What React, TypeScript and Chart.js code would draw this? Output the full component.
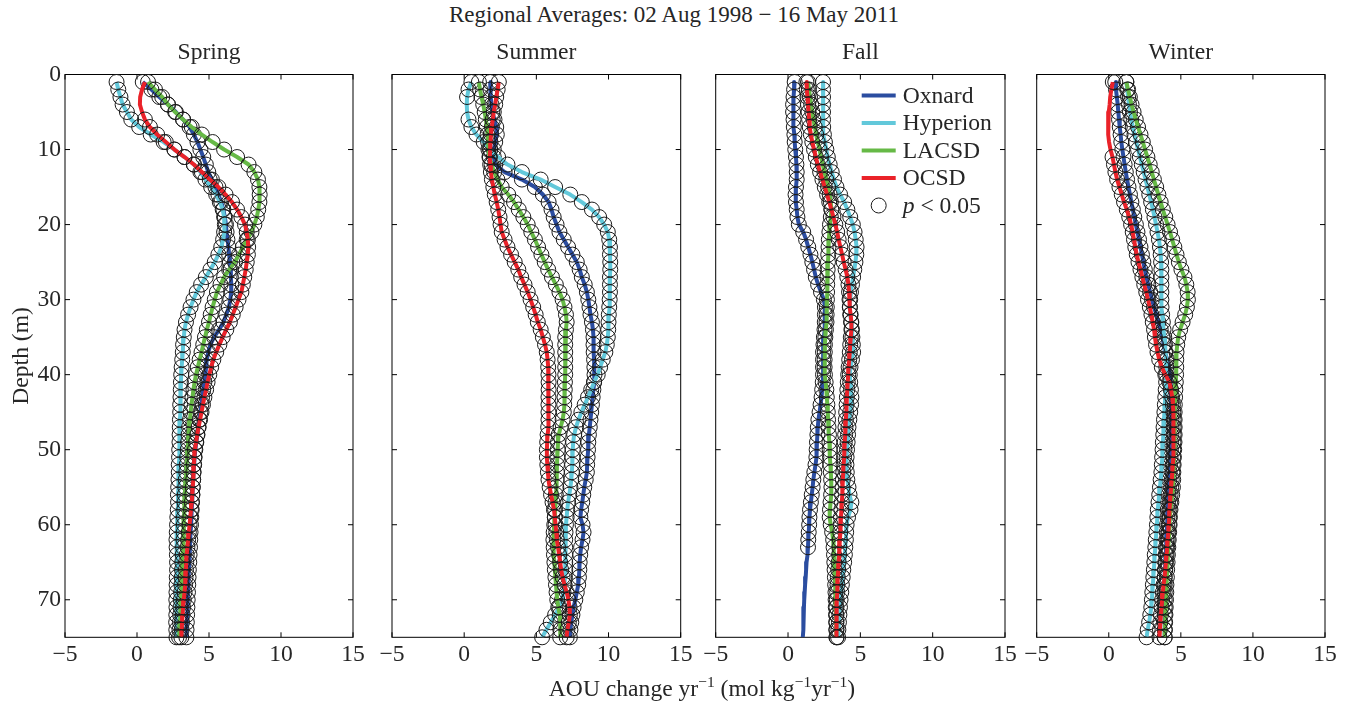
import React, { useEffect, useRef } from "react";
import { Chart, registerables } from "chart.js";
Chart.register(...registerables);

const FONT = '"Liberation Serif", "Times New Roman", serif';
const TEXT = "#262626";
const FS = 23.6;
const FS_SUP = 23;

const DEPTHS = [
  1, 2, 3, 4, 5, 6, 7, 8, 9, 10, 11, 12, 13, 14, 15, 16, 17, 18, 19, 20,
  21, 22, 23, 24, 25, 26, 27, 28, 29, 30, 31, 32, 33, 34, 35, 36, 37, 38, 39, 40,
  41, 42, 43, 44, 45, 46, 47, 48, 49, 50, 51, 52, 53, 54, 55, 56, 57, 58, 59, 60,
  61, 62, 63, 64, 65, 66, 67, 68, 69, 70, 71, 72, 73, 74, 75,
];
const X_TICKS = [-5, 0, 5, 10, 15];
const Y_TICKS = [0, 10, 20, 30, 40, 50, 60, 70];
const SITES = ["Oxnard", "Hyperion", "LACSD", "OCSD"];
const COLORS = ["#2B4DA0", "#62C8DA", "#66B946", "#EA2229"];
const PANEL_TITLES = ["Spring", "Summer", "Fall", "Winter"];

// ---- Spring ----
const SPRING_OXNARD = [
  0.4, 1.0, 1.55, 2.15, 2.7, 3.2, 3.65, 3.95, 4.2, 4.4,
  4.6, 4.78, 4.95, 5.2, 5.45, 5.65, 5.85, 6.0, 6.1, 6.18,
  6.22, 6.28, 6.35, 6.4, 6.45, 6.5, 6.52, 6.55, 6.54, 6.48,
  6.38, 6.2, 6.0, 5.7, 5.35, 5.1, 4.95, 4.85, 4.8, 4.75,
  4.68, 4.6, 4.52, 4.47, 4.4, 4.33, 4.26, 4.2, 4.12, 4.05,
  4.0, 3.97, 3.93, 3.9, 3.87, 3.85, 3.82, 3.8, 3.77, 3.75,
  3.72, 3.7, 3.68, 3.65, 3.63, 3.6, 3.58, 3.56, 3.54, 3.52,
  3.5, 3.48, 3.46, 3.44, 3.43,
];
const SPRING_HYPERION = [
  -1.42, -1.3, -1.15, -1.0, -0.7, -0.4, 0.15, 0.95, 1.85, 2.6,
  3.3, 3.95, 4.4, 4.75, 5.15, 5.5, 5.75, 5.95, 6.05, 6.1,
  6.05, 5.98, 5.85, 5.65, 5.4, 5.1, 4.78, 4.45, 4.15, 3.92,
  3.72, 3.55, 3.4, 3.3, 3.25, 3.2, 3.18, 3.14, 3.1, 3.07,
  3.05, 3.04, 3.02, 3.0, 3.0, 2.98, 2.97, 2.96, 2.95, 2.93,
  2.92, 2.9, 2.9, 2.88, 2.86, 2.84, 2.85, 2.83, 2.8, 2.78,
  2.76, 2.74, 2.75, 2.77, 2.78, 2.78, 2.76, 2.75, 2.74, 2.73,
  2.74, 2.73, 2.72, 2.73, 2.74,
];
const SPRING_LACSD = [
  0.77, 1.25, 1.75, 2.15, 2.65, 3.2, 3.8, 4.5, 5.25, 6.05,
  6.95, 7.75, 8.15, 8.4, 8.5, 8.52, 8.5, 8.42, 8.32, 8.15,
  7.95, 7.62, 7.35, 7.08, 6.8, 6.4, 6.05, 5.8, 5.55, 5.4,
  5.25, 5.12, 5.0, 4.85, 4.72, 4.6, 4.48, 4.35, 4.22, 4.1,
  4.0, 3.92, 3.85, 3.78, 3.72, 3.68, 3.62, 3.58, 3.55, 3.52,
  3.48, 3.45, 3.42, 3.38, 3.35, 3.32, 3.3, 3.28, 3.26, 3.25,
  3.24, 3.23, 3.2, 3.17, 3.14, 3.12, 3.1, 3.08, 3.06, 3.04,
  3.02, 3.0, 2.98, 2.95, 2.92,
];
const SPRING_OCSD = [
  0.55, 0.35, 0.22, 0.2, 0.35, 0.55, 0.9, 1.4, 2.0, 2.6,
  3.3, 3.95, 4.5, 5.05, 5.65, 6.15, 6.6, 6.95, 7.25, 7.5,
  7.62, 7.7, 7.72, 7.7, 7.62, 7.55, 7.45, 7.35, 7.25, 7.05,
  6.85, 6.65, 6.45, 6.2, 5.95, 5.72, 5.5, 5.3, 5.15, 5.02,
  4.9, 4.8, 4.68, 4.58, 4.48, 4.38, 4.28, 4.18, 4.1, 4.02,
  3.98, 3.95, 3.92, 3.9, 3.87, 3.84, 3.8, 3.75, 3.7, 3.65,
  3.6, 3.55, 3.5, 3.45, 3.42, 3.4, 3.37, 3.34, 3.3, 3.25,
  3.2, 3.17, 3.13, 3.1, 3.08,
];

// ---- Summer ----
const SUMMER_OXNARD = [
  1.8, 1.82, 1.85, 1.9, 1.95, 2.1, 2.22, 2.26, 2.15, 2.05,
  2.05, 2.15, 2.8, 4.0, 4.9, 5.45, 5.85, 6.05, 6.2, 6.4,
  6.6, 6.9, 7.2, 7.5, 7.8, 8.0, 8.15, 8.35, 8.5, 8.6,
  8.68, 8.75, 8.85, 8.92, 8.96, 8.96, 8.97, 9.0, 9.02, 9.03,
  9.0, 8.95, 8.9, 8.85, 8.8, 8.75, 8.7, 8.64, 8.6, 8.58,
  8.55, 8.52, 8.5, 8.42, 8.32, 8.25, 8.18, 8.1, 8.05, 8.2,
  8.27, 8.2, 8.1, 8.04, 8.0, 7.98, 7.95, 7.9, 7.8, 7.7,
  7.58, 7.5, 7.42, 7.36, 7.32,
];
const SUMMER_HYPERION = [
  0.5, 0.3, 0.2, 0.18, 0.2, 0.3, 0.5, 0.85, 1.35, 1.8,
  2.35, 3.0, 4.0, 5.3, 6.3, 7.35, 8.15, 8.85, 9.35, 9.7,
  9.95, 10.05, 10.1, 10.1, 10.12, 10.12, 10.1, 10.1, 10.1, 10.08,
  10.05, 10.02, 10.0, 9.98, 9.95, 9.88, 9.78, 9.6, 9.42, 9.25,
  9.0, 8.8, 8.58, 8.35, 8.12, 7.92, 7.75, 7.62, 7.55, 7.52,
  7.5, 7.48, 7.46, 7.42, 7.36, 7.28, 7.2, 7.14, 7.1, 7.05,
  7.02, 7.0, 7.0, 7.0, 7.0, 7.0, 6.98, 6.95, 6.88, 6.78,
  6.6, 6.3, 6.0, 5.7, 5.4,
];
const SUMMER_LACSD = [
  1.02, 1.1, 1.2, 1.32, 1.42, 1.5, 1.57, 1.62, 1.66, 1.68,
  1.75, 1.9, 2.08, 2.3, 2.6, 3.05, 3.45, 3.78, 4.1, 4.4,
  4.65, 4.9, 5.12, 5.35, 5.58, 5.82, 6.08, 6.35, 6.6, 6.82,
  6.95, 7.05, 7.1, 7.05, 7.0, 7.0, 7.0, 7.0, 7.0, 7.0,
  6.98, 6.97, 6.95, 6.93, 6.9, 6.82, 6.68, 6.55, 6.5, 6.48,
  6.45, 6.43, 6.42, 6.4, 6.38, 6.35, 6.33, 6.3, 6.28, 6.24,
  6.2, 6.18, 6.2, 6.22, 6.25, 6.28, 6.32, 6.36, 6.4, 6.45,
  6.52, 6.62, 6.66, 6.66, 6.65,
];
const SUMMER_OCSD = [
  2.4, 2.32, 2.22, 2.15, 2.05, 1.98, 1.92, 1.86, 1.82, 1.8,
  1.78, 1.8, 1.85, 1.92, 2.02, 2.12, 2.25, 2.36, 2.45, 2.52,
  2.6, 2.8, 3.0, 3.25, 3.5, 3.75, 3.95, 4.18, 4.4, 4.6,
  4.78, 4.95, 5.1, 5.3, 5.45, 5.6, 5.72, 5.78, 5.82, 5.84,
  5.85, 5.85, 5.84, 5.84, 5.84, 5.84, 5.82, 5.78, 5.75, 5.73,
  5.73, 5.76, 5.8, 5.84, 5.92, 6.02, 6.12, 6.22, 6.28, 6.33,
  6.38, 6.42, 6.5, 6.58, 6.65, 6.72, 6.82, 6.95, 7.1, 7.22,
  7.3, 7.32, 7.25, 7.15, 7.1,
];

// ---- Fall ----
const FALL_OXNARD = [
  0.46, 0.42, 0.38, 0.35, 0.35, 0.38, 0.4, 0.44, 0.46, 0.5,
  0.55, 0.58, 0.6, 0.6, 0.55, 0.52, 0.55, 0.6, 0.65, 0.75,
  1.05, 1.25, 1.4, 1.55, 1.68, 1.8, 1.92, 2.08, 2.28, 2.48,
  2.55, 2.55, 2.54, 2.52, 2.48, 2.45, 2.42, 2.42, 2.42, 2.42,
  2.4, 2.36, 2.32, 2.25, 2.18, 2.1, 2.06, 2.03, 2.0, 1.98,
  1.96, 1.9, 1.82, 1.75, 1.7, 1.64, 1.58, 1.52, 1.48, 1.46,
  1.43, 1.4, 1.38, 1.35, 1.28, 1.25, 1.22, 1.18, 1.15, 1.12,
  1.1, 1.08, 1.06, 1.04, 1.02,
];
const FALL_HYPERION = [
  2.42, 2.42, 2.42, 2.42, 2.42, 2.42, 2.43, 2.48, 2.55, 2.65,
  2.75, 2.88, 3.02, 3.18, 3.35, 3.6, 3.88, 4.1, 4.3, 4.48,
  4.6, 4.68, 4.74, 4.72, 4.66, 4.58, 4.5, 4.42, 4.35, 4.3,
  4.27, 4.3, 4.36, 4.42, 4.45, 4.48, 4.5, 4.42, 4.32, 4.27,
  4.3, 4.35, 4.38, 4.36, 4.3, 4.24, 4.18, 4.15, 4.12, 4.08,
  4.05, 4.04, 4.06, 4.1, 4.18, 4.25, 4.38, 4.32, 4.15, 4.05,
  4.02, 4.0, 3.96, 3.93, 3.88, 3.82, 3.78, 3.72, 3.68, 3.63,
  3.59, 3.55, 3.52, 3.48, 3.46,
];
const FALL_LACSD = [
  1.38, 1.45, 1.52, 1.6, 1.68, 1.76, 1.85, 1.95, 2.05, 2.18,
  2.28, 2.4, 2.52, 2.65, 2.77, 2.88, 2.96, 3.0, 2.96, 2.9,
  2.86, 2.82, 2.8, 2.78, 2.76, 2.74, 2.72, 2.71, 2.7, 2.69,
  2.68, 2.67, 2.66, 2.62, 2.58, 2.55, 2.54, 2.53, 2.53, 2.55,
  2.6, 2.65, 2.68, 2.72, 2.75, 2.77, 2.8, 2.83, 2.86, 2.88,
  2.9, 2.93, 2.96, 2.98, 3.0, 2.98, 2.94, 2.9, 2.88, 2.95,
  3.05, 3.12, 3.15, 3.18, 3.2, 3.22, 3.24, 3.26, 3.28, 3.29,
  3.3, 3.32, 3.33, 3.34, 3.35,
];
const FALL_OCSD = [
  1.27, 1.3, 1.34, 1.38, 1.42, 1.46, 1.5, 1.58, 1.68, 1.8,
  1.92, 2.06, 2.22, 2.38, 2.54, 2.7, 2.85, 3.0, 3.14, 3.27,
  3.4, 3.5, 3.62, 3.74, 3.85, 3.98, 4.1, 4.18, 4.22, 4.25,
  4.28, 4.33, 4.38, 4.38, 4.34, 4.3, 4.27, 4.23, 4.19, 4.16,
  4.13, 4.1, 4.07, 4.05, 4.02, 4.0, 3.97, 3.95, 3.92, 3.9,
  3.87, 3.84, 3.82, 3.79, 3.77, 3.74, 3.72, 3.69, 3.66, 3.64,
  3.61, 3.58, 3.55, 3.53, 3.5, 3.47, 3.44, 3.42, 3.4, 3.37,
  3.35, 3.35, 3.35, 3.35, 3.35,
];

// ---- Winter ----
const WINTER_OXNARD = [
  0.45, 0.5, 0.56, 0.62, 0.66, 0.71, 0.76, 0.82, 0.87, 0.94,
  1.02, 1.1, 1.18, 1.27, 1.37, 1.47, 1.57, 1.67, 1.77, 1.88,
  1.99, 2.1, 2.2, 2.3, 2.4, 2.5, 2.61, 2.74, 2.87, 3.0,
  3.14, 3.3, 3.45, 3.6, 3.72, 3.82, 3.9, 4.05, 4.18, 4.25,
  4.28, 4.3, 4.32, 4.34, 4.35, 4.35, 4.35, 4.34, 4.33, 4.31,
  4.28, 4.25, 4.22, 4.2, 4.17, 4.14, 4.11, 4.09, 4.07, 4.04,
  4.02, 4.0, 3.97, 3.95, 3.92, 3.9, 3.88, 3.88, 3.88, 3.88,
  3.88, 3.88, 3.88, 3.88, 3.88,
];
const WINTER_HYPERION = [
  1.22, 1.28, 1.34, 1.4, 1.47, 1.56, 1.66, 1.78, 1.9, 2.03,
  2.16, 2.29, 2.42, 2.55, 2.68, 2.81, 2.94, 3.06, 3.17, 3.28,
  3.38, 3.48, 3.55, 3.6, 3.63, 3.65, 3.65, 3.65, 3.65, 3.65,
  3.66, 3.7, 3.75, 3.8, 3.85, 3.9, 3.94, 3.97, 3.99, 3.99,
  3.98, 3.95, 3.92, 3.89, 3.86, 3.83, 3.8, 3.78, 3.75, 3.73,
  3.7, 3.68, 3.65, 3.6, 3.55, 3.5, 3.45, 3.4, 3.37, 3.34,
  3.3, 3.26, 3.23, 3.19, 3.16, 3.13, 3.09, 3.06, 3.02, 2.99,
  2.95, 2.88, 2.8, 2.7, 2.62,
];
const WINTER_LACSD = [
  1.22, 1.34, 1.46, 1.58, 1.72, 1.87, 2.03, 2.2, 2.36, 2.52,
  2.68, 2.84, 2.98, 3.13, 3.29, 3.44, 3.6, 3.75, 3.92, 4.08,
  4.25, 4.4, 4.55, 4.7, 4.86, 5.04, 5.25, 5.38, 5.47, 5.49,
  5.42, 5.3, 5.12, 4.95, 4.82, 4.75, 4.7, 4.68, 4.68, 4.67,
  4.65, 4.62, 4.6, 4.58, 4.57, 4.57, 4.57, 4.57, 4.56, 4.54,
  4.52, 4.5, 4.48, 4.47, 4.45, 4.4, 4.34, 4.28, 4.24, 4.22,
  4.19, 4.16, 4.13, 4.1, 4.08, 4.05, 4.03, 4.0, 3.99, 3.97,
  3.95, 3.93, 3.91, 3.89, 3.88,
];
const WINTER_OCSD = [
  0.28, 0.18, 0.1, 0.06, 0.0, -0.05, -0.05, -0.02, 0.02, 0.12,
  0.26, 0.36, 0.46, 0.58, 0.74, 0.9, 1.06, 1.25, 1.42, 1.55,
  1.66, 1.75, 1.84, 1.94, 2.06, 2.2, 2.33, 2.46, 2.6, 2.72,
  2.85, 2.96, 3.05, 3.14, 3.2, 3.28, 3.38, 3.5, 3.68, 3.92,
  4.2, 4.32, 4.4, 4.45, 4.48, 4.5, 4.5, 4.5, 4.49, 4.48,
  4.46, 4.44, 4.41, 4.37, 4.33, 4.29, 4.25, 4.21, 4.19, 4.17,
  4.13, 4.09, 4.05, 4.01, 3.97, 3.92, 3.87, 3.8, 3.75, 3.7,
  3.66, 3.62, 3.58, 3.55, 3.52,
];

// depths where the trend is NOT significant (no circle), per site order
const SPRING_NONSIG = [[], [], [], [1, 2, 3, 4, 5]];
const SUMMER_NONSIG = [[], [4, 5], [], []];
const FALL_NONSIG = [[64, 65, 66, 67, 68, 69, 70, 71, 72, 73, 74, 75], [], [], []];
const WINTER_NONSIG = [[], [], [], [2, 3, 4, 5, 6, 7, 8, 9, 10]];

const PANEL_VALUES = [
  [SPRING_OXNARD, SPRING_HYPERION, SPRING_LACSD, SPRING_OCSD],
  [SUMMER_OXNARD, SUMMER_HYPERION, SUMMER_LACSD, SUMMER_OCSD],
  [FALL_OXNARD, FALL_HYPERION, FALL_LACSD, FALL_OCSD],
  [WINTER_OXNARD, WINTER_HYPERION, WINTER_LACSD, WINTER_OCSD],
];
const PANEL_NONSIG = [SPRING_NONSIG, SUMMER_NONSIG, FALL_NONSIG, WINTER_NONSIG];

// layout of each panel canvas (page pixels)
const LAYOUT = [
  { left: 0, width: 380, yWidth: 65, padRight: 27 },
  { left: 360, width: 340, yWidth: 32, padRight: 19.3 },
  { left: 684, width: 340, yWidth: 31.7, padRight: 19 },
  { left: 1005, width: 343, yWidth: 31.7, padRight: 23 },
];
const H = 705;
const PLOT_TOP = 74.5;
const PLOT_BOTTOM = 637.3;

const fmt = (v: number) => (v < 0 ? "\u2212" + Math.abs(v) : String(v));

const boxPlugin = {
  id: "boxTicks",
  beforeDatasetsDraw(chart: any) {
    const { ctx, chartArea, scales } = chart;
    const { left, right, top, bottom } = chartArea;
    ctx.save();
    ctx.strokeStyle = "#000";
    ctx.lineWidth = 1;
    ctx.strokeRect(left, top, right - left, bottom - top);
    ctx.beginPath();
    for (const v of X_TICKS) {
      const px = scales.x.getPixelForValue(v);
      ctx.moveTo(px, bottom);
      ctx.lineTo(px, bottom - 5);
      ctx.moveTo(px, top);
      ctx.lineTo(px, top + 5);
    }
    for (const v of Y_TICKS) {
      const py = scales.y.getPixelForValue(v);
      ctx.moveTo(left, py);
      ctx.lineTo(left + 5, py);
      ctx.moveTo(right, py);
      ctx.lineTo(right - 5, py);
    }
    ctx.stroke();
    ctx.restore();
  },
};

const legendPlugin = {
  id: "insideLegend",
  afterDraw(chart: any) {
    const { ctx, chartArea } = chart;
    const { left, top } = chartArea;
    ctx.save();
    ctx.textBaseline = "middle";
    ctx.fillStyle = TEXT;
    const rows = [...SITES, "p"];
    rows.forEach((name, i) => {
      const y = top + 21 + i * 27.5;
      if (i < 4) {
        ctx.strokeStyle = COLORS[i];
        ctx.lineWidth = 4;
        ctx.beginPath();
        ctx.moveTo(left + 146, y);
        ctx.lineTo(left + 180, y);
        ctx.stroke();
        ctx.font = `${FS}px ${FONT}`;
        ctx.fillText(name, left + 187, y + 1);
      } else {
        ctx.strokeStyle = "#1a1a1a";
        ctx.lineWidth = 1;
        ctx.beginPath();
        ctx.arc(left + 163, y, 7.5, 0, Math.PI * 2);
        ctx.stroke();
        ctx.font = `italic ${FS}px ${FONT}`;
        ctx.fillText("p", left + 187, y + 1);
        const w = ctx.measureText("p").width;
        ctx.font = `${FS}px ${FONT}`;
        ctx.fillText(" < 0.05", left + 187 + w, y + 1);
      }
    });
    ctx.restore();
  },
};

function buildConfig(idx: number) {
  const values = PANEL_VALUES[idx];
  const nonsig = PANEL_NONSIG[idx];
  const lay = LAYOUT[idx];
  const showY = idx === 0;
  const datasets: any[] = [];
  values.forEach((vals, s) => {
    datasets.push({
      label: SITES[s],
      data: DEPTHS.map((d, i) => ({ x: vals[i], y: d })),
      showLine: true,
      borderColor: COLORS[s],
      backgroundColor: COLORS[s],
      borderWidth: 4,
      borderJoinStyle: "round",
      pointRadius: 0,
      pointHoverRadius: 0,
      order: 20 - s * 2,
    });
    datasets.push({
      label: SITES[s] + " p<0.05",
      data: DEPTHS.filter((d) => !nonsig[s].includes(d)).map((d) => ({
        x: vals[DEPTHS.indexOf(d)],
        y: d,
      })),
      showLine: false,
      pointRadius: 7.5,
      pointHoverRadius: 7.5,
      pointBorderWidth: 1,
      pointBorderColor: "#1a1a1a",
      pointBackgroundColor: "rgba(0,0,0,0)",
      clip: false,
      order: 19 - s * 2,
    });
  });
  const font = { family: FONT, size: FS, weight: "normal" as const };
  const plugins: any[] = [boxPlugin];
  if (idx === 2) plugins.push(legendPlugin);
  const titleTopPad = 38.2;
  return {
    type: "scatter" as const,
    data: { datasets },
    plugins,
    options: {
      animation: false,
      responsive: false,
      events: [],
      layout: { padding: { left: 0, right: lay.padRight, top: 0, bottom: 0 } },
      plugins: {
        legend: { display: false },
        tooltip: { enabled: false },
        title: {
          display: true,
          fullSize: false,
          text: PANEL_TITLES[idx],
          color: TEXT,
          font,
          padding: { top: titleTopPad, bottom: PLOT_TOP - titleTopPad - FS * 1.2 },
        },
      },
      scales: {
        x: {
          type: "linear",
          min: -5,
          max: 15,
          afterBuildTicks: (sc: any) => {
            sc.ticks = X_TICKS.map((v) => ({ value: v }));
          },
          ticks: {
            font,
            color: TEXT,
            padding: 3.5,
            maxRotation: 0,
            autoSkip: false,
            callback: (v: any) => fmt(Number(v)),
          },
          grid: { display: false, drawTicks: false },
          border: { display: false },
          afterFit: (sc: any) => {
            sc.height = H - PLOT_BOTTOM;
          },
        },
        y: {
          type: "linear",
          reverse: true,
          min: 0,
          max: 75,
          afterBuildTicks: (sc: any) => {
            sc.ticks = Y_TICKS.map((v) => ({ value: v }));
          },
          ticks: {
            display: showY,
            font,
            color: TEXT,
            padding: 4,
            callback: (v: any) => fmt(Number(v)),
          },
          grid: { display: false, drawTicks: false },
          border: { display: false },
          title: {
            display: showY,
            text: "Depth (m)",
            color: TEXT,
            font,
            padding: { top: 8, bottom: 0 },
          },
          afterFit: (sc: any) => {
            sc.width = lay.yWidth;
          },
        },
      },
    },
  };
}

function Panel({ idx }: { idx: number }) {
  const ref = useRef<HTMLCanvasElement | null>(null);
  useEffect(() => {
    if (!ref.current) return;
    const chart = new Chart(ref.current, buildConfig(idx) as any);
    return () => chart.destroy();
  }, [idx]);
  const lay = LAYOUT[idx];
  return (
    <canvas
      ref={ref}
      width={lay.width}
      height={H}
      style={{
        position: "absolute",
        left: lay.left,
        top: 0,
        width: lay.width,
        height: H,
      }}
    />
  );
}

export default function App() {
  const supStyle: React.CSSProperties = {
    fontSize: 15.5,
    position: "relative",
    top: -9,
    verticalAlign: "baseline",
  };
  return (
    <div
      style={{
        position: "absolute",
        left: 0,
        top: 0,
        width: 1348,
        height: 705,
        background: "#fff",
        overflow: "hidden",
      }}
    >
      <div
        style={{
          position: "absolute",
          left: 0,
          top: 1,
          width: 1348,
          textAlign: "center",
          fontFamily: FONT,
          fontSize: FS_SUP,
          lineHeight: "27px",
          color: TEXT,
          whiteSpace: "nowrap",
        }}
      >
        Regional Averages: 02 Aug 1998 {"\u2212"} 16 May 2011
      </div>
      {[0, 1, 2, 3].map((i) => (
        <Panel key={i} idx={i} />
      ))}
      <div
        style={{
          position: "absolute",
          left: 702,
          top: 675,
          transform: "translateX(-50%)",
          fontFamily: FONT,
          fontSize: FS,
          lineHeight: "27px",
          color: TEXT,
          whiteSpace: "nowrap",
        }}
      >
        AOU change yr<span style={supStyle}>{"\u2212"}1</span> (mol kg
        <span style={supStyle}>{"\u2212"}1</span>yr
        <span style={supStyle}>{"\u2212"}1</span>)
      </div>
    </div>
  );
}
